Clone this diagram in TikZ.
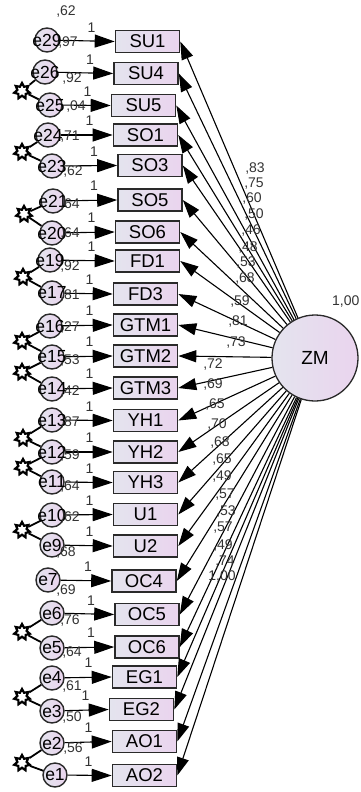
\documentclass[tikz,border=0pt]{standalone}
\usepackage{fontspec}
\setmainfont{Liberation Sans}
\usetikzlibrary{arrows.meta,shapes.geometric}
\definecolor{lavA}{HTML}{E4E4EE}
\definecolor{lavB}{HTML}{EAD4EE}
\definecolor{edgec}{HTML}{2A2A2A}
\definecolor{numc}{HTML}{333333}
\begin{document}
\begin{tikzpicture}[x=1pt,y=-1pt,
  obs/.style={draw=edgec, line width=1.6pt, left color=lavA, right color=lavB,
    minimum width=64pt, minimum height=22pt, inner sep=0pt,
    font=\fontsize{18.5}{18.5}\selectfont},
  err/.style={circle, draw=edgec, line width=1.4pt, left color=lavA, right color=lavB,
    minimum size=24pt, inner sep=0pt},
  etext/.style={inner sep=0pt, font=\fontsize{17.5}{17.5}\selectfont},
  lat/.style={circle, draw=edgec, line width=1.3pt, left color=lavA, right color=lavB,
    minimum size=86pt, inner sep=0pt, font=\fontsize{19}{19}\selectfont},
  num/.style={inner sep=0pt, text=numc, font=\fontsize{14}{14}\selectfont},
  conn/.style={line width=1.1pt, -{Triangle[length=18pt,width=12pt]}},
  errconn/.style={line width=1.1pt, -{Triangle[length=20pt,width=13pt]}},
  covstar/.style={star, star points=7, star point ratio=1.7, minimum size=16pt,
    inner sep=0pt, draw=black, line width=2.2pt, fill=white},
  covline/.style={line width=1.8pt}
]
\useasboundingbox (0,0) rectangle (361,792);

% latent variable
\node[lat] (ZM) at (315,358) {ZM};
\node[num, anchor=west] (zmvar) at (332,302) {1,00};

% observed variables with error terms
\foreach \b/\bx/\y/\e/\ex/\ey in {
  SU1/147.5/41.5/e29/47/40,
  SU4/146/73.5/e26/45/72,
  SU5/143.5/105.5/e25/50/105,
  SO1/145.5/135/e24/48/135,
  SO3/150/165.5/e23/52/166,
  SO5/150/200/e21/53/201,
  SO6/147.5/232/e20/52/233,
  FD1/147.5/261/e19/50/260,
  FD3/145.5/294/e17/52/293,
  GTM1/145.5/325/e16/50/326,
  GTM2/145.5/356/e15/52/357,
  GTM3/145.5/388/e14/52/389,
  YH1/145.5/420.5/e13/52/420,
  YH2/145.5/452/e12/52/452,
  YH3/145.5/482.5/e11/52/482,
  U1/145.5/514.5/e10/52/515,
  U2/145.5/546/e9/52/545,
  OC4/144/581/e7/48/580,
  OC5/147/614.5/e6/52/613,
  OC6/147/647/e5/52/648,
  EG1/144.5/677/e4/52/678,
  EG2/141.5/709.5/e3/52/711,
  AO1/144.5/741.5/e2/52/743,
  AO2/144.5/775.5/e1/55/775}{
  \node[obs] (\b) at (\bx,\y) {\b};
  \node[err] (\e) at (\ex,\ey) {};
  \draw[errconn] (\e) -- (\b.west);
  \node[etext] (t\e) at (\e) {\e};
  \node[num] (one\b) at (\bx-56,\y-14) {1};
}

% loadings from ZM
\foreach \b/\t/\x/\y in {
  SU1/{,83}/255/169, SU4/{,75}/254/184, SU5/{,60}/252/199, SO1/{,50}/254/215,
  SO3/{,46}/251/231, SO5/{,48}/248/248, SO6/{,53}/246/263, FD1/{,68}/245/279,
  FD3/{,59}/240/302, GTM1/{,81}/238/322, GTM2/{,73}/236/343, GTM3/{,72}/213/365,
  YH1/{,69}/213/385, YH2/{,65}/215/405, YH3/{,70}/217/425, U1/{,68}/220/443,
  U2/{,65}/222/460, OC4/{,49}/222/477, OC5/{,57}/225/495, OC6/{,53}/226/512,
  EG1/{,57}/223/528, EG2/{,49}/223/546, AO1/{,74}/225/562, AO2/{1,00}/222/577}{
  \draw[conn] (ZM) -- (\b.east);
  \node[num] (w\b) at (\x,\y) {\t};
}

% variances of error terms
\node[num] (v0) at (66,12) {,62};
\foreach \i/\t/\x/\y in {
  1/{,97}/68/43, 2/{,92}/72/79, 3/{,04}/76/107, 4/{,71}/70/137, 5/{,62}/73/172,
  6/{,64}/70/205, 7/{,64}/70/234, 8/{,92}/70/267, 9/{,81}/70/296, 10/{,27}/70/328,
  11/{,53}/70/361, 12/{,42}/70/392, 13/{,87}/70/423, 14/{,59}/70/456,
  15/{,64}/70/487, 16/{,62}/70/518, 17/{,68}/66/553, 18/{,69}/66/590,
  19/{,76}/70/620, 20/{,64}/72/652, 21/{,61}/72/686, 22/{,50}/72/717,
  23/{,56}/73/748}{
  \node[num] (v\i) at (\x,\y) {\t};
}

% covariances between error terms
\foreach \a/\c/\sx/\sy in {
  e26/e25/22/91, e24/e23/22/152, e21/e20/24/214, e19/e17/23/277,
  e16/e15/22/341, e15/e14/22/372, e13/e12/23/438, e12/e11/23/467,
  e10/e9/22/530, e6/e5/22/632, e4/e3/22/697, e2/e1/22/763}{
  \node[covstar] (s\a\c) at (\sx,\sy) {};
  \draw[covline] (s\a\c) -- (\a);
  \draw[covline] (s\a\c) -- (\c);
}
\end{tikzpicture}
\end{document}
